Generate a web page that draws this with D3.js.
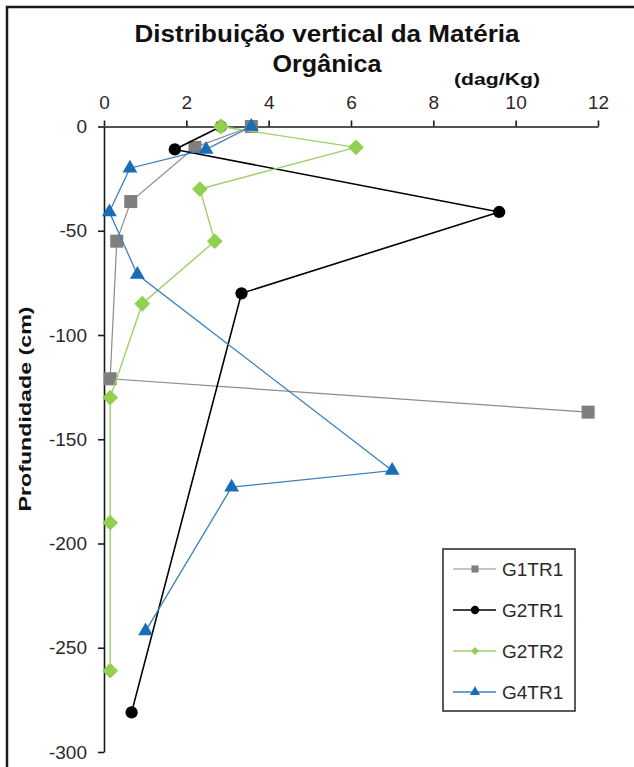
<!DOCTYPE html>
<html>
<head>
<meta charset="utf-8">
<script src="https://cdn.jsdelivr.net/npm/d3@7"></script>
<style>
  body { margin: 0; background: #fff; }
  svg { display: block; font-family: "Liberation Sans", Arial, sans-serif; }
</style>
</head>
<body>
<svg id="chart" width="634" height="767"></svg>
<script>
// series names
var seriesNames = ["G1TR1", "G2TR1", "G2TR2", "G4TR1"];

// organic matter (dag/Kg) and depth (cm) for each series
var g1tr1Value = [3.58, 2.21, 0.65, 0.31, 0.15, 11.76];
var g1tr1Depth = [0, -10, -36, -55, -121, -137];

var g2tr1Value = [2.84, 1.72, 9.6, 3.34, 0.67];
var g2tr1Depth = [0, -11, -41, -80, -281];

var g2tr2Value = [2.84, 6.12, 2.33, 2.69, 0.93, 0.15, 0.15, 0.15];
var g2tr2Depth = [0, -10, -30, -55, -85, -130, -190, -261];

var g4tr1Value = [3.58, 2.48, 0.63, 0.13, 0.81, 7.0, 3.1, 1.01];
var g4tr1Depth = [0, -11, -20, -41, -71, -165, -173, -242];

var xTicks = [0, 2, 4, 6, 8, 10, 12];
var yTicks = [0, -50, -100, -150, -200, -250, -300];

function init() {
  var svg = d3.select("#chart");

  var x = d3.scaleLinear().domain([0, 12]).range([104, 598]);
  var y = d3.scaleLinear().domain([0, -300]).range([126.5, 752]);

  // outer frame (left + top only visible)
  svg.append("path")
     .attr("d", "M7,780 L7,7 L650,7")
     .attr("fill", "none")
     .attr("stroke", "#1a1a1a")
     .attr("stroke-width", 2.5);

  // title
  svg.append("text")
     .attr("x", 327).attr("y", 42)
     .attr("text-anchor", "middle")
     .attr("font-size", 23).attr("font-weight", "bold")
     .attr("fill", "#111")
     .attr("textLength", 385).attr("lengthAdjust", "spacingAndGlyphs")
     .text("Distribuição vertical da Matéria");
  svg.append("text")
     .attr("x", 327).attr("y", 71.5)
     .attr("text-anchor", "middle")
     .attr("font-size", 23).attr("font-weight", "bold")
     .attr("fill", "#111")
     .attr("textLength", 109).attr("lengthAdjust", "spacingAndGlyphs")
     .text("Orgânica");
  svg.append("text")
     .attr("x", 497).attr("y", 85)
     .attr("text-anchor", "middle")
     .attr("font-size", 16).attr("font-weight", "bold")
     .attr("fill", "#111")
     .attr("textLength", 86).attr("lengthAdjust", "spacingAndGlyphs")
     .text("(dag/Kg)");

  // axes
  var fmt = function(d) { return String(d); }; // plain hyphen minus like the original
  var xAxis = svg.append("g")
     .attr("transform", "translate(0," + y(0) + ")")
     .call(d3.axisTop(x).tickValues(xTicks).tickSize(6).tickSizeOuter(0).tickPadding(12).tickFormat(fmt));
  var yAxis = svg.append("g")
     .attr("transform", "translate(" + x(0) + ",0)")
     .call(d3.axisLeft(y).tickValues(yTicks).tickSize(6).tickSizeOuter(0).tickPadding(11).tickFormat(fmt));

  [xAxis, yAxis].forEach(function(a) {
    a.attr("font-size", 19).attr("font-family", "Liberation Sans, Arial, sans-serif");
    a.select(".domain").attr("stroke", "#1a1a1a").attr("stroke-width", 1.6);
    a.selectAll(".tick line").attr("stroke", "#1a1a1a").attr("stroke-width", 1.6);
    a.selectAll(".tick text").attr("fill", "#2a2a2a");
  });

  // y label
  svg.append("text")
     .attr("transform", "translate(31,409) rotate(-90)")
     .attr("text-anchor", "middle")
     .attr("font-size", 17).attr("font-weight", "bold")
     .attr("fill", "#111")
     .attr("textLength", 205).attr("lengthAdjust", "spacingAndGlyphs")
     .text("Profundidade  (cm)");

  var series = [
    { name: seriesNames[0], v: g1tr1Value, d: g1tr1Depth, line: "#8c8c8c", lw: 1.2, fill: "#7f7f7f",
      sym: d3.symbolSquare, size: 170, lsize: 50, rot: 0 },
    { name: seriesNames[1], v: g2tr1Value, d: g2tr1Depth, line: "#000000", lw: 1.6, fill: "#000000",
      sym: d3.symbolCircle, size: 118, lsize: 55, rot: 0 },
    { name: seriesNames[2], v: g2tr2Value, d: g2tr2Depth, line: "#9fcf6a", lw: 1.4, fill: "#92d050",
      sym: d3.symbolSquare, size: 125, lsize: 32, rot: 45 },
    { name: seriesNames[3], v: g4tr1Value, d: g4tr1Depth, line: "#3a7fbf", lw: 1.3, fill: "#1b6cb6",
      sym: d3.symbolTriangle, size: 95, lsize: 45, rot: 0 }
  ];

  var line = d3.line().x(function(p) { return x(p[0]); }).y(function(p) { return y(p[1]); });

  series.forEach(function(s) {
    var pts = s.v.map(function(v, i) { return [v, s.d[i]]; });
    var g = svg.append("g").attr("class", "series");
    g.append("path")
     .attr("d", line(pts))
     .attr("fill", "none")
     .attr("stroke", s.line)
     .attr("stroke-width", s.lw);
    g.selectAll("path.mark")
     .data(pts)
     .enter()
     .append("path")
     .attr("class", "mark")
     .attr("d", d3.symbol().type(s.sym).size(s.size))
     .attr("transform", function(p) { return "translate(" + x(p[0]) + "," + y(p[1]) + ") rotate(" + s.rot + ")"; })
     .attr("fill", s.fill);
  });

  // legend
  var leg = svg.append("g");
  leg.append("rect")
     .attr("x", 443).attr("y", 549)
     .attr("width", 132).attr("height", 162)
     .attr("fill", "#fff")
     .attr("stroke", "#333")
     .attr("stroke-width", 1.6);
  series.forEach(function(s, i) {
    var ly = 569 + i * 41;
    leg.append("line")
       .attr("x1", 453).attr("x2", 496)
       .attr("y1", ly).attr("y2", ly)
       .attr("stroke", s.line).attr("stroke-width", s.lw);
    leg.append("path")
       .attr("d", d3.symbol().type(s.sym).size(s.lsize))
       .attr("transform", "translate(475," + ly + ") rotate(" + s.rot + ")")
       .attr("fill", s.fill);
    leg.append("text")
       .attr("x", 502).attr("y", ly)
       .attr("dy", "0.35em")
       .attr("font-size", 19)
       .attr("fill", "#2a2a2a")
       .text(s.name);
  });
}

init();
</script>
</body>
</html>
